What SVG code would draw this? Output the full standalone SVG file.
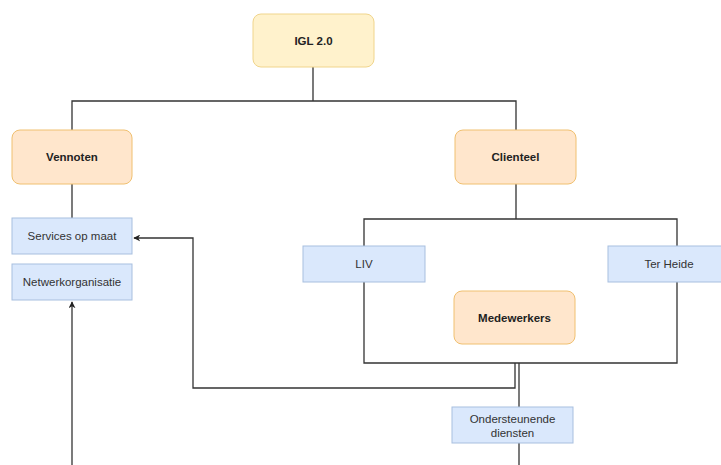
<svg xmlns="http://www.w3.org/2000/svg" width="721" height="465" viewBox="0 0 721 465">
<defs>
<style>
.y{fill:#fff2cc;stroke:#f0d58c;stroke-width:1}
.o{fill:#ffe6cc;stroke:#f0c070;stroke-width:1}
.b{fill:#dae8fc;stroke:#a8bfdf;stroke-width:1}
.tb{font-family:"Liberation Sans",Arial,sans-serif;font-size:11.5px;font-weight:bold;fill:#222;text-anchor:middle}
.tn{font-family:"Liberation Sans",Arial,sans-serif;font-size:11.5px;fill:#333;text-anchor:middle}
.c{fill:none;stroke:#333;stroke-width:1.3}
</style>
<marker id="ah" viewBox="0 0 10 10" refX="9" refY="5" markerWidth="7" markerHeight="7" orient="auto" markerUnits="userSpaceOnUse">
<path d="M0,0 L10,5 L0,10 L3,5 z" fill="#222"/>
</marker>
</defs>
<rect width="721" height="465" fill="#fff"/>
<g id="connectors">
<path class="c" d="M313,67 V101 M72,130 V101 H516 V130"/>
<path class="c" d="M72,184 V218"/>
<path class="c" d="M516,184 V219 M364,246 V219 H677 V246"/>
<path class="c" d="M364,282 V363 H677 V282"/>
<path class="c" d="M519,363 V407"/>
<path class="c" d="M519,443 V465"/>
<path class="c" d="M515,363 V388 H193 V238 H134" marker-end="url(#ah)"/>
<path class="c" d="M72,465 V302" marker-end="url(#ah)"/>
</g>
<g id="igl"><rect class="y" x="253" y="14" width="121" height="53" rx="8"/><text class="tb" x="313.5" y="44.5">IGL 2.0</text></g>
<g id="vennoten"><rect class="o" x="12" y="130" width="120" height="54" rx="8"/><text class="tb" x="72" y="161">Vennoten</text></g>
<g id="clienteel"><rect class="o" x="455" y="130" width="121" height="54" rx="8"/><text class="tb" x="515.5" y="161">Clienteel</text></g>
<g id="services"><rect class="b" x="12" y="218" width="120" height="36"/><text class="tn" x="72" y="240">Services op maat</text></g>
<g id="netwerk"><rect class="b" x="12" y="264" width="120" height="36"/><text class="tn" x="72" y="286">Netwerkorganisatie</text></g>
<g id="liv"><rect class="b" x="303" y="246" width="122" height="36"/><text class="tn" x="364" y="268">LIV</text></g>
<g id="terheide"><rect class="b" x="608" y="246" width="120" height="36"/><text class="tn" x="669" y="268">Ter Heide</text></g>
<g id="medewerkers"><rect class="o" x="454" y="291" width="121" height="53" rx="8"/><text class="tb" x="514.5" y="322">Medewerkers</text></g>
<g id="ondersteunende"><rect class="b" x="452" y="407" width="121" height="36"/><text class="tn" x="512.5" y="422.5">Ondersteunende</text><text class="tn" x="512.5" y="436.5">diensten</text></g>
</svg>
